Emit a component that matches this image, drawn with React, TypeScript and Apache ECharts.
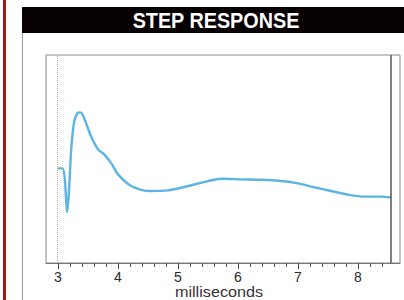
import React, { useEffect, useRef } from "react";
import * as echarts from "echarts";

const times = [3.0, 3.08, 3.12, 3.15, 3.18, 3.22, 3.27, 3.33, 3.37, 3.42, 3.55, 3.67, 3.77, 3.9, 4.0, 4.22, 4.5, 4.83, 5.17, 5.5, 5.72, 6.05, 6.4, 6.72, 7.0, 7.27, 7.55, 7.83, 8.1, 8.38, 8.55];
const response = [45.5, 45.5, 37.8, 24.4, 33, 54.5, 68, 72.2, 72.4, 70.8, 60.9, 54.5, 52.2, 47.4, 42.6, 37, 34.6, 34.9, 37, 39.4, 40.5, 40.2, 40.0, 39.4, 38.3, 36.4, 34.6, 32.9, 31.9, 31.9, 31.5];
const tickLabels = [3, 4, 5, 6, 7, 8];
const minorTicks = [3.0, 3.2, 3.4, 3.6, 3.8, 4.0, 4.2, 4.4, 4.6, 4.8, 5.0, 5.2, 5.4, 5.6, 5.8, 6.0, 6.2, 6.4, 6.6, 6.8, 7.0, 7.2, 7.4, 7.6, 7.8, 8.0, 8.2, 8.4];
const startMarker = 2.98;
const endMarker = 8.55;
const title = "STEP RESPONSE";
const xName = "milliseconds";

export default function App() {
  const ref = useRef<HTMLDivElement>(null);
  useEffect(() => {
    document.body.style.margin = "0";
    const chart = echarts.init(ref.current!, null, { renderer: "svg" });
    chart.setOption({
      animation: false,
      backgroundColor: "#ffffff",
      grid: { left: 46, top: 55, right: 4, bottom: 37, show: true, borderColor: "#8a8a8a", borderWidth: 1, backgroundColor: "transparent" },
      xAxis: [
        {
          type: "value", min: 2.8, max: 8.7,
          axisLine: { show: true, lineStyle: { color: "#777", width: 1 } },
          axisTick: { show: true, customValues: minorTicks, length: 4, lineStyle: { color: "#555" } },
          axisLabel: { show: true, customValues: tickLabels, color: "#2a2a2a", fontSize: 14, lineHeight: 13, margin: 7, fontFamily: "Liberation Sans, Arial, sans-serif" },
          splitLine: { show: false },
        },
        {
          type: "value", min: 2.8, max: 8.7, position: "bottom",
          axisLine: { show: false },
          axisTick: { show: true, customValues: tickLabels, length: 6, lineStyle: { color: "#444" } },
          axisLabel: { show: false },
          splitLine: { show: false },
        },
      ],
      yAxis: { type: "value", min: 0, max: 100, show: false, splitLine: { show: false } },
      graphic: [
        { type: "rect", shape: { x: 3, y: 0, width: 3, height: 300 }, style: { fill: "#a31a1a" } },
        { type: "line", shape: { x1: 22.5, y1: 7, x2: 22.5, y2: 300 }, style: { stroke: "#9a9a9a", lineWidth: 1 } },
        { type: "rect", shape: { x: 22, y: 7, width: 382, height: 26 }, style: { fill: "#060000" } },
        { type: "text", x: 216, y: 20, scaleX: 0.9, style: { text: title, fill: "#ffffff", font: "bold 22px 'Liberation Sans', Arial, sans-serif", textAlign: "center", textVerticalAlign: "middle" } },
        { type: "text", x: 219, y: 291.5, scaleX: 1.08, style: { text: xName, fill: "#333", font: "15px 'Liberation Sans', Arial, sans-serif", lineHeight: 13, textAlign: "center", textVerticalAlign: "middle" } },
      ],
      series: [
        {
          type: "line",
          data: times.map((t, i) => [t, response[i]]),
          smooth: 0.25,
          showSymbol: false,
          lineStyle: { color: "#5bb4e2", width: 2.4 },
          markLine: {
            silent: true, symbol: "none", label: { show: false },
            data: [
              { xAxis: startMarker, lineStyle: { color: "#b8a888", type: "dotted", width: 1 } },
              { xAxis: endMarker, lineStyle: { color: "#555", type: "solid", width: 1.5 } },
            ],
          },
        },
      ],
    });
    return () => chart.dispose();
  }, []);
  return <div ref={ref} style={{ width: 404, height: 300, position: "fixed", left: 0, top: 0 }} />;
}
